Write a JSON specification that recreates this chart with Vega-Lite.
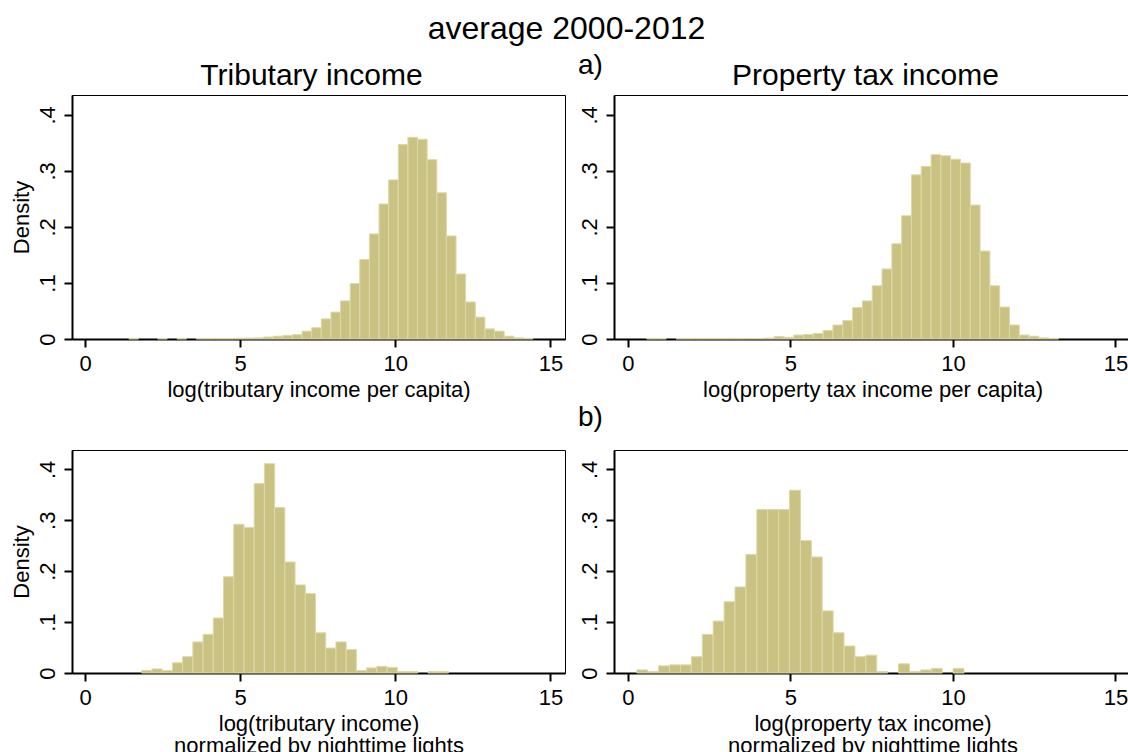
{
  "$schema": "https://vega.github.io/schema/vega-lite/v6.json",
  "background": "white",
  "padding": {"left": 9, "top": 12, "right": 0, "bottom": 0},
  "title": {
    "text": "average 2000-2012",
    "anchor": "middle",
    "fontSize": 32,
    "dx": -4,
    "offset": 6
  },
  "datasets": {
    "trib": [
      {"lo": 1.411, "hi": 1.721, "density": 0.0008},
      {"lo": 2.342, "hi": 2.652, "density": 0.0008},
      {"lo": 2.962, "hi": 3.273, "density": 0.0008},
      {"lo": 3.583, "hi": 3.893, "density": 0.0008},
      {"lo": 3.893, "hi": 4.203, "density": 0.0008},
      {"lo": 4.203, "hi": 4.513, "density": 0.0008},
      {"lo": 4.513, "hi": 4.824, "density": 0.0008},
      {"lo": 4.824, "hi": 5.134, "density": 0.0012},
      {"lo": 5.134, "hi": 5.444, "density": 0.0015},
      {"lo": 5.444, "hi": 5.754, "density": 0.002},
      {"lo": 5.754, "hi": 6.064, "density": 0.0035},
      {"lo": 6.064, "hi": 6.375, "density": 0.005},
      {"lo": 6.375, "hi": 6.685, "density": 0.0065},
      {"lo": 6.685, "hi": 6.995, "density": 0.0077},
      {"lo": 6.995, "hi": 7.305, "density": 0.014},
      {"lo": 7.305, "hi": 7.615, "density": 0.020},
      {"lo": 7.615, "hi": 7.926, "density": 0.036},
      {"lo": 7.926, "hi": 8.236, "density": 0.048},
      {"lo": 8.236, "hi": 8.546, "density": 0.068},
      {"lo": 8.546, "hi": 8.856, "density": 0.099},
      {"lo": 8.856, "hi": 9.166, "density": 0.142},
      {"lo": 9.166, "hi": 9.477, "density": 0.1875},
      {"lo": 9.477, "hi": 9.787, "density": 0.241},
      {"lo": 9.787, "hi": 10.097, "density": 0.284},
      {"lo": 10.097, "hi": 10.407, "density": 0.347},
      {"lo": 10.407, "hi": 10.717, "density": 0.360},
      {"lo": 10.717, "hi": 11.027, "density": 0.3565},
      {"lo": 11.027, "hi": 11.338, "density": 0.320},
      {"lo": 11.338, "hi": 11.648, "density": 0.261},
      {"lo": 11.648, "hi": 11.958, "density": 0.184},
      {"lo": 11.958, "hi": 12.268, "density": 0.116},
      {"lo": 12.268, "hi": 12.579, "density": 0.066},
      {"lo": 12.579, "hi": 12.889, "density": 0.039},
      {"lo": 12.889, "hi": 13.199, "density": 0.018},
      {"lo": 13.199, "hi": 13.509, "density": 0.014},
      {"lo": 13.509, "hi": 13.819, "density": 0.005},
      {"lo": 13.819, "hi": 14.130, "density": 0.002},
      {"lo": 14.130, "hi": 14.440, "density": 0.001}
    ],
    "prop": [
      {"lo": 0.575, "hi": 0.877, "density": 0.0008},
      {"lo": 0.877, "hi": 1.178, "density": 0.0008},
      {"lo": 1.480, "hi": 1.782, "density": 0.0008},
      {"lo": 1.782, "hi": 2.084, "density": 0.0008},
      {"lo": 2.084, "hi": 2.386, "density": 0.0008},
      {"lo": 2.386, "hi": 2.687, "density": 0.0008},
      {"lo": 2.687, "hi": 2.989, "density": 0.0008},
      {"lo": 2.989, "hi": 3.291, "density": 0.0008},
      {"lo": 3.291, "hi": 3.593, "density": 0.0008},
      {"lo": 3.593, "hi": 3.895, "density": 0.001},
      {"lo": 3.895, "hi": 4.196, "density": 0.001},
      {"lo": 4.196, "hi": 4.498, "density": 0.0015},
      {"lo": 4.498, "hi": 4.800, "density": 0.0045},
      {"lo": 4.800, "hi": 5.102, "density": 0.003},
      {"lo": 5.102, "hi": 5.404, "density": 0.007},
      {"lo": 5.404, "hi": 5.705, "density": 0.008},
      {"lo": 5.705, "hi": 6.007, "density": 0.010},
      {"lo": 6.007, "hi": 6.309, "density": 0.015},
      {"lo": 6.309, "hi": 6.611, "density": 0.025},
      {"lo": 6.611, "hi": 6.913, "density": 0.033},
      {"lo": 6.913, "hi": 7.214, "density": 0.056},
      {"lo": 7.214, "hi": 7.516, "density": 0.068},
      {"lo": 7.516, "hi": 7.818, "density": 0.095},
      {"lo": 7.818, "hi": 8.120, "density": 0.125},
      {"lo": 8.120, "hi": 8.422, "density": 0.170},
      {"lo": 8.422, "hi": 8.723, "density": 0.220},
      {"lo": 8.723, "hi": 9.025, "density": 0.293},
      {"lo": 9.025, "hi": 9.327, "density": 0.308},
      {"lo": 9.327, "hi": 9.629, "density": 0.329},
      {"lo": 9.629, "hi": 9.931, "density": 0.327},
      {"lo": 9.931, "hi": 10.232, "density": 0.321},
      {"lo": 10.232, "hi": 10.534, "density": 0.314},
      {"lo": 10.534, "hi": 10.836, "density": 0.239},
      {"lo": 10.836, "hi": 11.138, "density": 0.157},
      {"lo": 11.138, "hi": 11.440, "density": 0.095},
      {"lo": 11.440, "hi": 11.741, "density": 0.057},
      {"lo": 11.741, "hi": 12.043, "density": 0.025},
      {"lo": 12.043, "hi": 12.345, "density": 0.007},
      {"lo": 12.345, "hi": 12.647, "density": 0.005},
      {"lo": 12.647, "hi": 12.949, "density": 0.002},
      {"lo": 12.949, "hi": 13.250, "density": 0.001}
    ],
    "tribLights": [
      {"lo": 1.828, "hi": 2.157, "density": 0.005},
      {"lo": 2.157, "hi": 2.487, "density": 0.008},
      {"lo": 2.487, "hi": 2.816, "density": 0.005},
      {"lo": 2.816, "hi": 3.146, "density": 0.020},
      {"lo": 3.146, "hi": 3.475, "density": 0.032},
      {"lo": 3.475, "hi": 3.805, "density": 0.061},
      {"lo": 3.805, "hi": 4.134, "density": 0.076},
      {"lo": 4.134, "hi": 4.464, "density": 0.108},
      {"lo": 4.464, "hi": 4.793, "density": 0.189},
      {"lo": 4.793, "hi": 5.123, "density": 0.292},
      {"lo": 5.123, "hi": 5.452, "density": 0.286},
      {"lo": 5.452, "hi": 5.782, "density": 0.372},
      {"lo": 5.782, "hi": 6.111, "density": 0.411},
      {"lo": 6.111, "hi": 6.441, "density": 0.325},
      {"lo": 6.441, "hi": 6.770, "density": 0.218},
      {"lo": 6.770, "hi": 7.100, "density": 0.173},
      {"lo": 7.100, "hi": 7.429, "density": 0.156},
      {"lo": 7.429, "hi": 7.759, "density": 0.079},
      {"lo": 7.759, "hi": 8.088, "density": 0.049},
      {"lo": 8.088, "hi": 8.418, "density": 0.061},
      {"lo": 8.418, "hi": 8.747, "density": 0.046},
      {"lo": 8.747, "hi": 9.077, "density": 0.005},
      {"lo": 9.077, "hi": 9.406, "density": 0.010},
      {"lo": 9.406, "hi": 9.736, "density": 0.013},
      {"lo": 9.736, "hi": 10.065, "density": 0.011},
      {"lo": 10.065, "hi": 10.395, "density": 0.003},
      {"lo": 10.395, "hi": 10.724, "density": 0.003},
      {"lo": 11.054, "hi": 11.383, "density": 0.003},
      {"lo": 11.383, "hi": 11.713, "density": 0.003}
    ],
    "propLights": [
      {"lo": 0.273, "hi": 0.609, "density": 0.006},
      {"lo": 0.609, "hi": 0.944, "density": 0.003},
      {"lo": 0.944, "hi": 1.280, "density": 0.014},
      {"lo": 1.280, "hi": 1.615, "density": 0.016},
      {"lo": 1.615, "hi": 1.951, "density": 0.016},
      {"lo": 1.951, "hi": 2.287, "density": 0.032},
      {"lo": 2.287, "hi": 2.622, "density": 0.076},
      {"lo": 2.622, "hi": 2.958, "density": 0.102},
      {"lo": 2.958, "hi": 3.293, "density": 0.140},
      {"lo": 3.293, "hi": 3.629, "density": 0.169},
      {"lo": 3.629, "hi": 3.965, "density": 0.233},
      {"lo": 3.965, "hi": 4.300, "density": 0.321},
      {"lo": 4.300, "hi": 4.636, "density": 0.321},
      {"lo": 4.636, "hi": 4.971, "density": 0.321},
      {"lo": 4.971, "hi": 5.307, "density": 0.359},
      {"lo": 5.307, "hi": 5.643, "density": 0.260},
      {"lo": 5.643, "hi": 5.978, "density": 0.228},
      {"lo": 5.978, "hi": 6.314, "density": 0.122},
      {"lo": 6.314, "hi": 6.649, "density": 0.079},
      {"lo": 6.649, "hi": 6.985, "density": 0.053},
      {"lo": 6.985, "hi": 7.321, "density": 0.032},
      {"lo": 7.321, "hi": 7.656, "density": 0.035},
      {"lo": 7.656, "hi": 7.992, "density": 0.003},
      {"lo": 8.327, "hi": 8.663, "density": 0.018},
      {"lo": 8.663, "hi": 8.999, "density": 0.003},
      {"lo": 8.999, "hi": 9.334, "density": 0.006},
      {"lo": 9.334, "hi": 9.670, "density": 0.009},
      {"lo": 10.005, "hi": 10.341, "density": 0.009}
    ]
  },
  "config": {
    "font": "Liberation Sans",
    "view": {"stroke": "black", "strokeWidth": 1},
    "title": {"font": "Liberation Sans", "fontWeight": "normal", "color": "black", "fontSize": 28},
    "axis": {
      "labelFont": "Liberation Sans",
      "labelFontSize": 22,
      "labelColor": "black",
      "titleFont": "Liberation Sans",
      "titleFontSize": 22,
      "titleFontWeight": "normal",
      "titleColor": "black",
      "domainColor": "black",
      "domainWidth": 2,
      "tickColor": "black",
      "tickWidth": 2,
      "tickSize": 8,
      "grid": false,
      "labelFlush": false,
      "labelOverlap": false
    },
    "axisX": {"labelPadding": 6, "titlePadding": 5, "titleLineHeight": 22},
    "axisY": {
      "labelAngle": -90,
      "labelAlign": "center",
      "labelBaseline": "alphabetic",
      "labelPadding": 10,
      "titlePadding": 3,
      "labelExpr": "datum.value === 0 ? '0' : replace(format(datum.value, '.1f'), '0.', '.')"
    },
    "bar": {"fill": "#cac282", "stroke": "#ddd9a8", "strokeWidth": 1}
  },
  "spacing": 2,
  "vconcat": [
    {
      "title": {"text": "a)", "anchor": "middle", "dx": 20, "offset": -19},
      "spacing": 11,
      "hconcat": [
        {
          "width": 493,
          "height": 244,
          "title": {"text": "Tributary income", "fontSize": 30, "dx": -7, "offset": 4},
          "data": {"name": "trib"},
          "mark": "bar",
          "encoding": {
            "x": {"field": "lo", "type": "quantitative", "scale": {"domain": [-0.42, 15.47], "nice": false, "zero": false}, "axis": {"values": [0, 5, 10, 15], "title": "log(tributary income per capita)"}},
            "x2": {"field": "hi"},
            "y": {"field": "density", "type": "quantitative", "scale": {"domain": [0, 0.4355], "nice": false}, "axis": {"values": [0, 0.1, 0.2, 0.3, 0.4], "title": "Density"}},
            "y2": {"datum": 0}
          }
        },
        {
          "width": 517,
          "height": 244,
          "title": {"text": "Property tax income", "fontSize": 30, "dx": -7, "offset": 4},
          "data": {"name": "prop"},
          "mark": "bar",
          "encoding": {
            "x": {"field": "lo", "type": "quantitative", "scale": {"domain": [-0.43, 15.48], "nice": false, "zero": false}, "axis": {"values": [0, 5, 10, 15], "title": "log(property tax income per capita)"}},
            "x2": {"field": "hi"},
            "y": {"field": "density", "type": "quantitative", "scale": {"domain": [0, 0.4355], "nice": false}, "axis": {"values": [0, 0.1, 0.2, 0.3, 0.4], "title": null}},
            "y2": {"datum": 0}
          }
        }
      ]
    },
    {
      "title": {"text": "b)", "anchor": "middle", "dx": 20, "offset": 18},
      "spacing": 11,
      "hconcat": [
        {
          "width": 493,
          "height": 223,
          "data": {"name": "tribLights"},
          "mark": "bar",
          "encoding": {
            "x": {"field": "lo", "type": "quantitative", "scale": {"domain": [-0.42, 15.47], "nice": false, "zero": false}, "axis": {"values": [0, 5, 10, 15], "title": ["log(tributary income)", "normalized by nighttime lights"]}},
            "x2": {"field": "hi"},
            "y": {"field": "density", "type": "quantitative", "scale": {"domain": [0, 0.438], "nice": false}, "axis": {"values": [0, 0.1, 0.2, 0.3, 0.4], "title": "Density"}},
            "y2": {"datum": 0}
          }
        },
        {
          "width": 517,
          "height": 223,
          "data": {"name": "propLights"},
          "mark": "bar",
          "encoding": {
            "x": {"field": "lo", "type": "quantitative", "scale": {"domain": [-0.43, 15.48], "nice": false, "zero": false}, "axis": {"values": [0, 5, 10, 15], "title": ["log(property tax income)", "normalized by nighttime lights"]}},
            "x2": {"field": "hi"},
            "y": {"field": "density", "type": "quantitative", "scale": {"domain": [0, 0.438], "nice": false}, "axis": {"values": [0, 0.1, 0.2, 0.3, 0.4], "title": null}},
            "y2": {"datum": 0}
          }
        }
      ]
    }
  ]
}
